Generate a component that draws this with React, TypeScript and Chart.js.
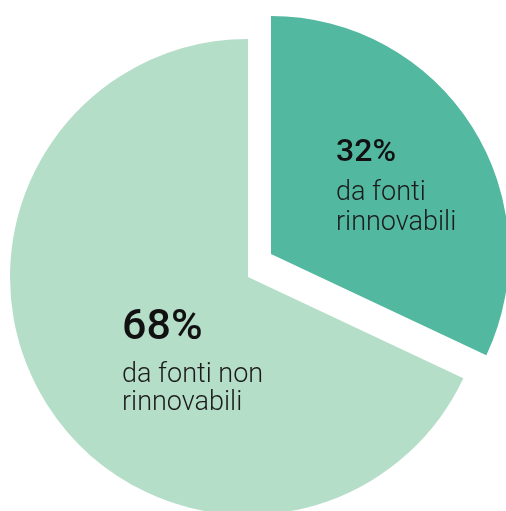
import React, { useEffect, useRef } from "react";
import { Chart, registerables } from "chart.js";

Chart.register(...registerables);

const categories = ["da fonti rinnovabili", "da fonti non rinnovabili"];
const values = [32, 68];
const percentLabels = ["32%", "68%"];
const descLines = [
  ["da fonti", "rinnovabili"],
  ["da fonti non", "rinnovabili"],
];
const colors = ["#53b8a0", "#b5dec8"];

// shift of the exploded slice (pixels)
const shifts = [
  [23, -23],
  [0, 0],
];

const sliceShift = {
  id: "sliceShift",
  beforeDatasetDraw(chart: any) {
    const meta = chart.getDatasetMeta(0);
    meta.data.forEach((arc: any, i: number) => {
      arc._ox = arc.x;
      arc._oy = arc.y;
      arc.x += shifts[i][0];
      arc.y += shifts[i][1];
    });
  },
  afterDatasetDraw(chart: any) {
    const meta = chart.getDatasetMeta(0);
    meta.data.forEach((arc: any) => {
      arc.x = arc._ox;
      arc.y = arc._oy;
    });
  },
};

const sliceLabels = {
  id: "sliceLabels",
  afterDatasetsDraw(chart: any) {
    const ctx = chart.ctx;
    const meta = chart.getDatasetMeta(0);
    const cx = meta.data[1].x;
    const cy = meta.data[1].y;
    const layouts = [
      { x: cx + 88, pY: cy - 116, pSize: 32, lY: [cy - 77, cy - 47], lSize: 27 },
      { x: cx - 126, pY: cy + 62, pSize: 43, lY: [cy + 105, cy + 133], lSize: 27 },
    ];
    ctx.save();
    ctx.textAlign = "left";
    ctx.textBaseline = "alphabetic";
    layouts.forEach((l, i) => {
      ctx.fillStyle = "#111111";
      ctx.font = `500 ${l.pSize}px Roboto`;
      ctx.fillText(percentLabels[i], l.x, l.pY);
      ctx.fillStyle = "#1b1b1b";
      ctx.font = `300 ${l.lSize}px Roboto`;
      descLines[i].forEach((t, j) => ctx.fillText(t, l.x, l.lY[j]));
    });
    ctx.restore();
  },
};

export default function App() {
  const ref = useRef<HTMLCanvasElement>(null);
  useEffect(() => {
    document.body.style.margin = "0";
    document.body.style.overflow = "hidden";
    const chart = new Chart(ref.current!, {
      type: "pie",
      data: {
        labels: categories,
        datasets: [
          {
            data: values,
            backgroundColor: colors,
            borderWidth: 0,
          },
        ],
      },
      options: {
        animation: false,
        responsive: false,
        devicePixelRatio: 1,
        layout: { padding: { left: 10, right: 20, top: 39, bottom: 5 } },
        plugins: { legend: { display: false }, tooltip: { enabled: false } },
      },
      plugins: [sliceShift, sliceLabels],
    });
    return () => chart.destroy();
  }, []);
  return (
    <div style={{ position: "fixed", left: 0, top: 0, width: 506, height: 511, overflow: "hidden", background: "#fff" }}>
      <canvas ref={ref} width={506} height={520} style={{ display: "block" }} />
    </div>
  );
}
